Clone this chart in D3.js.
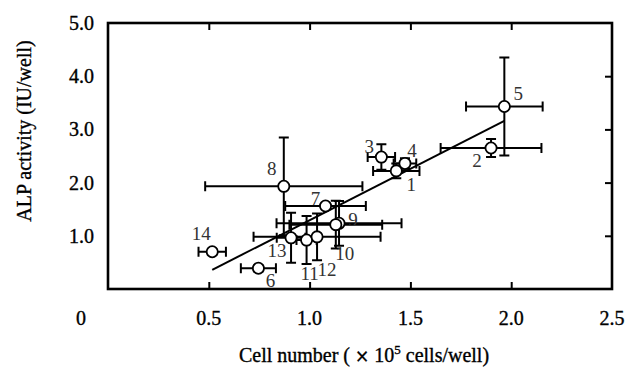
<!DOCTYPE html>
<html>
<head>
<meta charset="utf-8">
<script src="https://cdn.jsdelivr.net/npm/d3@7"></script>
<style>
  body { margin: 0; background: #fff; }
  text { font-family: "Liberation Serif", "Times New Roman", serif; }
  .heavy { stroke: #000; stroke-width: 0.35px; }
</style>
</head>
<body>
<script>
const d_margin = {top: 23, right: 19, bottom: 81, left: 108};
const v_width = 631 - d_margin.left - d_margin.right;
const v_height = 370 - d_margin.top - d_margin.bottom;

// data
var a_ids = [1, 2, 3, 4, 5, 6, 7, 8, 9, 10, 11, 12, 13, 14];
var a_cells = [1.43, 1.90, 1.356, 1.473, 1.966, 0.746, 1.079, 0.872, 1.146, 1.13, 0.985, 1.037, 0.908, 0.517];
var a_cells_err = [0.115, 0.25, 0.068, 0.056, 0.19, 0.087, 0.2, 0.39, 0.31, 0.23, 0.05, 0.315, 0.071, 0.068];
var a_alp = [2.22, 2.65, 2.48, 2.36, 3.43, 0.39, 1.56, 1.93, 1.235, 1.21, 0.92, 0.98, 0.962, 0.70];
var a_alp_err = [0.14, 0.17, 0.24, 0.1, 0.92, 0.06, 0.05, 0.92, 0.42, 0.45, 0.45, 0.44, 0.47, 0.05];
var v_slope = 1.933, v_intercept = -0.639;
var a_x_ticks = [0.5, 1.0, 1.5, 2.0, 2.5];
var a_y_ticks = [1.0, 2.0, 3.0, 4.0, 5.0];

// where each number sits relative to its point (px)
var a_label_off = [[15, 13], [-14, 12], [-12, -11], [7, -13], [14, -13], [12, 12], [-10, -8],
    [-12, -18], [14, -4], [9, 29], [3, 33], [10, 32], [-14, 13], [-11, -18]];

var x = d3.scaleLinear().domain([0, 2.5]).range([0, v_width]),
    y = d3.scaleLinear().domain([0, 5]).range([v_height, 0]);

var svg = d3.select("body").append("svg")
    .attr("width", 631)
    .attr("height", 370);

var g = svg.append("g")
    .attr("transform", `translate(${d_margin.left}, ${d_margin.top})`);

// ticks inside the frame
g.append("g").call(d3.axisBottom(x).tickValues([0.5, 1, 1.5, 2]).tickSize(-7).tickFormat(""))
    .attr("transform", `translate(0, ${v_height})`);
g.append("g").call(d3.axisTop(x).tickValues([0.5, 1, 1.5, 2]).tickSize(-7).tickFormat(""));
g.append("g").call(d3.axisRight(y).tickValues([1, 2, 3, 4]).tickSize(-7).tickFormat(""))
    .attr("transform", `translate(${v_width}, 0)`);
g.selectAll(".domain").remove();
g.selectAll(".tick line").attr("stroke", "#000").attr("stroke-width", 2);

g.append("rect")
    .attr("width", v_width)
    .attr("height", v_height)
    .attr("fill", "none")
    .attr("stroke", "#000")
    .attr("stroke-width", 2.6);

// tick labels
g.selectAll(".xlab")
    .data(a_x_ticks)
    .enter().append("text")
    .attr("class", "heavy")
    .attr("x", function(d) { return x(d); })
    .attr("y", v_height + 36)
    .attr("text-anchor", "middle")
    .attr("font-size", 20)
    .text(function(d) { return d.toFixed(1); });
g.append("text")
    .attr("class", "heavy")
    .attr("x", x(0) - 27)
    .attr("y", v_height + 36)
    .attr("text-anchor", "middle")
    .attr("font-size", 20)
    .text("0");
g.selectAll(".ylab")
    .data(a_y_ticks)
    .enter().append("text")
    .attr("class", "heavy")
    .attr("x", -14)
    .attr("y", function(d) { return y(d); })
    .attr("dy", "0.35em")
    .attr("text-anchor", "end")
    .attr("font-size", 20)
    .text(function(d) { return d.toFixed(1); });

// axis titles
var t_x = svg.append("text")
    .attr("class", "heavy")
    .attr("x", d_margin.left + v_width / 2 + 4)
    .attr("y", 362)
    .attr("text-anchor", "middle")
    .attr("font-size", 20);
t_x.append("tspan").text("Cell number ( ");
t_x.append("tspan").attr("font-family", "DejaVu Sans").attr("font-size", 17).text("×");
t_x.append("tspan").text(" 10");
t_x.append("tspan").attr("font-size", 13).attr("dy", -8).text("5");
t_x.append("tspan").attr("dy", 8).text(" cells/well)");

svg.append("text")
    .attr("class", "heavy")
    .attr("transform", "translate(31, 131) rotate(-90)")
    .attr("text-anchor", "middle")
    .attr("font-size", 20)
    .text("ALP activity (IU/well)");

var a_points = a_ids.map(function(id, i) {
    return {id: id, cx: a_cells[i], ex: a_cells_err[i], cy: a_alp[i], ey: a_alp_err[i], off: a_label_off[i]};
});

// error bars
var g_err = g.append("g").attr("stroke", "#000").attr("stroke-width", 2).attr("fill", "none");
a_points.forEach(function(p) {
    var px = x(p.cx), py = y(p.cy);
    var x0 = x(p.cx - p.ex), x1 = x(p.cx + p.ex);
    var y0 = y(p.cy - p.ey), y1 = y(p.cy + p.ey);
    g_err.append("path")
        .attr("d", `M${x0},${py}H${x1}M${x0},${py - 5}V${py + 5}M${x1},${py - 5}V${py + 5}`);
    g_err.append("path")
        .attr("d", `M${px},${y0}V${y1}M${px - 5},${y0}H${px + 5}M${px - 5},${y1}H${px + 5}`);
});

// regression line
var v_min = d3.min(a_cells), v_max = d3.max(a_cells);
g.append("line")
    .attr("x1", x(v_min))
    .attr("y1", y(v_slope * v_min + v_intercept))
    .attr("x2", x(v_max))
    .attr("y2", y(v_slope * v_max + v_intercept))
    .attr("stroke", "#000")
    .attr("stroke-width", 2);

g.selectAll(".pt")
    .data(a_points)
    .enter().append("circle")
    .attr("cx", function(d) { return x(d.cx); })
    .attr("cy", function(d) { return y(d.cy); })
    .attr("r", 5.6)
    .attr("fill", "#fff")
    .attr("stroke", "#000")
    .attr("stroke-width", 1.8);

g.selectAll(".lbl")
    .data(a_points)
    .enter().append("text")
    .attr("x", function(d) { return x(d.cx) + d.off[0]; })
    .attr("y", function(d) { return y(d.cy) + d.off[1]; })
    .attr("dy", "0.35em")
    .attr("text-anchor", "middle")
    .attr("font-size", 19)
    .attr("fill", "#333")
    .text(function(d) { return d.id; });
</script>
</body>
</html>
